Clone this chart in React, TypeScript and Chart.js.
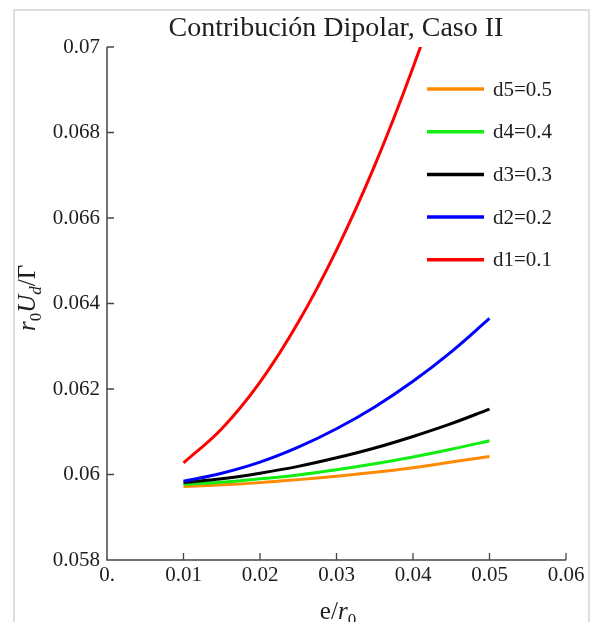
import React, { useEffect, useRef } from "react";
import { Chart, registerables } from "chart.js";

Chart.register(...registerables);

// ---- data ----
const xValues = [0.01, 0.015, 0.02, 0.025, 0.03, 0.035, 0.04, 0.045, 0.05];
const d1 = [0.06027, 0.06107, 0.06216, 0.06356, 0.06525, 0.06723, 0.06952, 0.0721, 0.07498];
const d2 = [0.05984, 0.06003, 0.06029, 0.06064, 0.06107, 0.06158, 0.06218, 0.06287, 0.06365];
const d3 = [0.05981, 0.0599, 0.06003, 0.06019, 0.06039, 0.06062, 0.06089, 0.06119, 0.06153];
const d4 = [0.05977, 0.05982, 0.0599, 0.05999, 0.06011, 0.06025, 0.06041, 0.06059, 0.06079];
const d5 = [0.05972, 0.05976, 0.05981, 0.05988, 0.05996, 0.06005, 0.06016, 0.06029, 0.06042];

const seriesLabels = ["d1=0.1", "d2=0.2", "d3=0.3", "d4=0.4", "d5=0.5"];
const seriesColors = ["#FF0000", "#0000FF", "#000000", "#11EE11", "#FF8A00"];

const xTicks = [0, 0.01, 0.02, 0.03, 0.04, 0.05, 0.06];
const xTickLabels = ["0.", "0.01", "0.02", "0.03", "0.04", "0.05", "0.06"];
const yTicks = [0.058, 0.06, 0.062, 0.064, 0.066, 0.068, 0.07];
const yTickLabels = ["0.058", "0.06", "0.062", "0.064", "0.066", "0.068", "0.07"];

const titleText = "Contribución Dipolar, Caso II";

const SERIF = "'Liberation Serif', 'Times New Roman', serif";
const TEXT_COLOR = "#1e1e1e";
const AXIS_COLOR = "#454545";

type Seg = { t: string; italic?: boolean; size: number; dy: number };

function drawSegments(ctx: CanvasRenderingContext2D, segs: Seg[], cx: number, baseY: number) {
  let total = 0;
  const widths: number[] = [];
  for (const s of segs) {
    ctx.font = `${s.italic ? "italic " : ""}${s.size}px ${SERIF}`;
    const w = ctx.measureText(s.t).width;
    widths.push(w);
    total += w;
  }
  let x = cx - total / 2;
  ctx.textAlign = "left";
  ctx.textBaseline = "alphabetic";
  segs.forEach((s, i) => {
    ctx.font = `${s.italic ? "italic " : ""}${s.size}px ${SERIF}`;
    ctx.fillText(s.t, x, baseY + s.dy);
    x += widths[i];
  });
}

const decorPlugin = {
  id: "decor",
  afterDraw(chart: any) {
    const ctx: CanvasRenderingContext2D = chart.ctx;
    const xs = chart.scales.x;
    const ys = chart.scales.y;
    const x0 = xs.getPixelForValue(xTicks[0]);
    const x1 = xs.getPixelForValue(xTicks[xTicks.length - 1]);
    const y0 = ys.getPixelForValue(yTicks[0]);
    const y1 = ys.getPixelForValue(yTicks[yTicks.length - 1]);
    ctx.save();
    // axes
    ctx.strokeStyle = AXIS_COLOR;
    ctx.lineWidth = 1.5;
    ctx.beginPath();
    ctx.moveTo(x0, y1);
    ctx.lineTo(x0, y0);
    ctx.lineTo(x1, y0);
    ctx.stroke();
    // ticks (inward)
    ctx.lineWidth = 1.3;
    ctx.beginPath();
    for (const v of xTicks) {
      const p = xs.getPixelForValue(v);
      if (v === xTicks[0]) continue;
      ctx.moveTo(p, y0);
      ctx.lineTo(p, y0 - 7);
    }
    for (const v of yTicks) {
      const p = ys.getPixelForValue(v);
      if (v === yTicks[0]) continue;
      ctx.moveTo(x0, p);
      ctx.lineTo(x0 + 7, p);
    }
    ctx.stroke();

    // title
    ctx.fillStyle = TEXT_COLOR;
    ctx.font = `28px ${SERIF}`;
    ctx.textAlign = "center";
    ctx.textBaseline = "alphabetic";
    ctx.fillText(titleText, 336, 36);

    // x axis title: e/r0
    drawSegments(
      ctx,
      [
        { t: "e/", size: 25, dy: 0 },
        { t: "r", italic: true, size: 25, dy: 0 },
        { t: "0", size: 17, dy: 6 },
      ],
      338,
      619
    );

    // y axis title: r0 Ud / Γ (rotated)
    ctx.save();
    ctx.translate(35, 298);
    ctx.rotate(-Math.PI / 2);
    drawSegments(
      ctx,
      [
        { t: "r", italic: true, size: 25, dy: 0 },
        { t: "0", size: 17, dy: 6 },
        { t: "U", italic: true, size: 25, dy: 0 },
        { t: "d", italic: true, size: 17, dy: 6 },
        { t: "/\u0393", size: 25, dy: 0 },
      ],
      0,
      0
    );
    ctx.restore();

    // legend
    const ds = chart.data.datasets;
    let row = 0;
    for (let i = ds.length - 1; i >= 0; i--) {
      const y = 89 + row * 42.7;
      ctx.strokeStyle = ds[i].borderColor;
      ctx.lineWidth = 3.5;
      ctx.beginPath();
      ctx.moveTo(427, y);
      ctx.lineTo(484, y);
      ctx.stroke();
      ctx.fillStyle = TEXT_COLOR;
      ctx.font = `21px ${SERIF}`;
      ctx.textAlign = "left";
      ctx.textBaseline = "middle";
      ctx.fillText(ds[i].label, 493, y + 1);
      row++;
    }
    ctx.restore();
  },
};

export default function App() {
  const canvasRef = useRef<HTMLCanvasElement | null>(null);

  useEffect(() => {
    if (!canvasRef.current) return;
    const series = [d1, d2, d3, d4, d5];
    const chart = new Chart(canvasRef.current, {
      type: "line",
      data: {
        datasets: series.map((arr, i) => ({
          label: seriesLabels[i],
          data: xValues.map((x, j) => ({ x, y: arr[j] })),
          borderColor: seriesColors[i],
          backgroundColor: seriesColors[i],
          borderWidth: 3,
          pointRadius: 0,
          tension: 0.4,
          fill: false,
        })),
      },
      options: {
        responsive: false,
        animation: false,
        devicePixelRatio: 1,
        layout: { padding: { top: 47, right: 29, left: 0, bottom: 0 } },
        plugins: {
          legend: { display: false },
          title: { display: false },
          tooltip: { enabled: false },
        },
        scales: {
          x: {
            type: "linear",
            min: 0,
            max: 0.06,
            grid: { display: false, drawTicks: false },
            border: { display: false },
            afterBuildTicks: (s: any) => {
              s.ticks = xTicks.map((v) => ({ value: v }));
            },
            afterFit: (s: any) => {
              s.height = 62;
            },
            ticks: {
              autoSkip: false,
              maxRotation: 0,
              padding: 3,
              color: TEXT_COLOR,
              font: { family: SERIF, size: 21 },
              callback: (_v: any, i: number) => xTickLabels[i],
            },
          },
          y: {
            type: "linear",
            min: 0.058,
            max: 0.07,
            grid: { display: false, drawTicks: false },
            border: { display: false },
            afterBuildTicks: (s: any) => {
              s.ticks = yTicks.map((v) => ({ value: v }));
            },
            afterFit: (s: any) => {
              s.width = 107;
            },
            ticks: {
              autoSkip: false,
              padding: 7,
              color: TEXT_COLOR,
              font: { family: SERIF, size: 21 },
              callback: (_v: any, i: number) => yTickLabels[i],
            },
          },
        },
      },
      plugins: [decorPlugin],
    });
    return () => chart.destroy();
  }, []);

  return (
    <div
      style={{
        position: "absolute",
        left: 0,
        top: 0,
        width: 595,
        height: 622,
        overflow: "hidden",
        background: "#ffffff",
      }}
    >
      <canvas
        ref={canvasRef}
        width={595}
        height={622}
        style={{ position: "absolute", left: 0, top: 0, width: 595, height: 622, display: "block" }}
      />
      <div
        style={{
          position: "absolute",
          left: 13,
          top: 9,
          width: 577,
          height: 700,
          border: "2px solid #dedede",
          boxSizing: "border-box",
          pointerEvents: "none",
        }}
      />
    </div>
  );
}
